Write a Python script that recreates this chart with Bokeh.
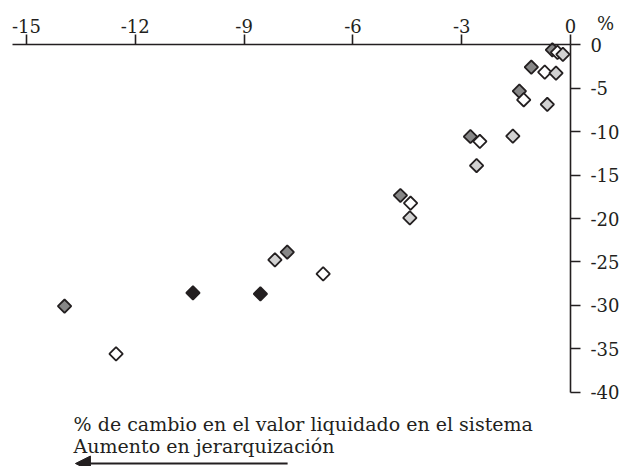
import numpy as np
from bokeh.plotting import figure
from bokeh.models import (LinearAxis, FixedTicker, Range1d, Arrow, NormalHead)
from bokeh.core.properties import value
from bokeh.embed import file_html
from bokeh.resources import INLINE

# ---- data ----
dark_x = [-0.50, -1.08, -1.41, -2.76, -4.69, -7.81, -13.95]
dark_y = [-0.58, -2.58, -5.34, -10.56, -17.35, -23.88, -30.10]
white_x = [-0.36, -0.71, -1.29, -2.50, -4.41, -6.82, -12.53]
white_y = [-0.88, -3.15, -6.33, -11.13, -18.24, -26.37, -35.58]
light_x = [-0.21, -0.40, -0.64, -1.59, -2.59, -4.43, -8.15]
light_y = [-1.10, -3.27, -6.87, -10.52, -13.90, -19.92, -24.76]
black_x = [-10.41, -8.55]
black_y = [-28.56, -28.67]

x_ticks = [-15, -12, -9, -6, -3, 0]
y_ticks = [0, -5, -10, -15, -20, -25, -30, -35, -40]
x_tick_labels = {t: str(t) for t in x_ticks}
y_tick_labels = {t: str(t) for t in y_ticks}
unit_label = "%"
caption_1 = "% de cambio en el valor liquidado en el sistema"
caption_2 = "Aumento en jerarquización"

FONT = "DejaVu Serif"
INK = "#231f20"

p = figure(width=623, height=466, output_backend="svg", toolbar_location=None,
           x_range=Range1d(-15.716, 1.461), y_range=Range1d(-48.555, 5.101),
           x_axis_type=None, y_axis_type=None,
           min_border=0, min_border_left=0, min_border_right=0,
           min_border_top=0, min_border_bottom=0)
p.outline_line_color = None
p.grid.visible = False
p.background_fill_color = "white"
p.border_fill_color = "white"

xaxis = LinearAxis(fixed_location=0, bounds=(-15.385, 0),
                   ticker=FixedTicker(ticks=x_ticks),
                   major_label_overrides=x_tick_labels)
yaxis = LinearAxis(fixed_location=0, bounds=(-40, 0),
                   ticker=FixedTicker(ticks=y_ticks),
                   major_label_overrides=y_tick_labels)
for ax in (xaxis, yaxis):
    ax.axis_line_color = INK
    ax.axis_line_width = 1.6
    ax.major_tick_line_color = INK
    ax.major_tick_line_width = 1.6
    ax.major_tick_out = 10
    ax.major_tick_in = 0
    ax.minor_tick_line_color = None
    ax.major_label_text_font = FONT
    ax.major_label_text_font_size = "18px"
    ax.major_label_text_color = INK
xaxis.major_label_standoff = 2
yaxis.major_label_standoff = 10
p.add_layout(xaxis, "above")
p.add_layout(yaxis, "right")

common = dict(marker="square", angle=np.pi / 4, size=9.5,
              line_color=INK, line_width=1.8)
p.scatter(dark_x, dark_y, fill_color="#878787", **common)
p.scatter(white_x, white_y, fill_color="white", **common)
p.scatter(light_x, light_y, fill_color="#d2d2d2", **common)
p.scatter(black_x, black_y, fill_color=INK, **common)

p.text(x=[0.965], y=[2.45], text=[unit_label], text_font=value(FONT),
       text_font_size="18px", text_color=INK, text_align="center",
       text_baseline="middle")
p.text(x=[-13.70, -13.70], y=[-43.64, -46.14], text=[caption_1, caption_2],
       text_font=value(FONT), text_font_size="19px", text_color=INK,
       text_align="left", text_baseline="alphabetic")

p.add_layout(Arrow(x_start=-7.80, y_start=-48.21, x_end=-13.65, y_end=-48.21,
                   line_color=INK, line_width=2,
                   end=NormalHead(size=15, fill_color=INK, line_color=INK)))

open("out.html", "w").write(file_html(p, INLINE))
